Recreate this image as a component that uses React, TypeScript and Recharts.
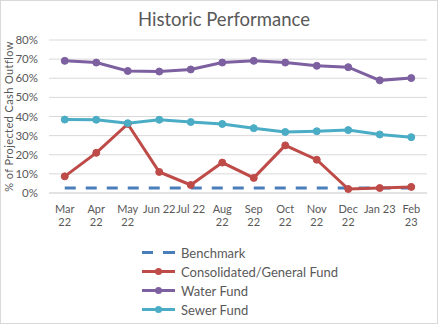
import { CartesianGrid, Label, Legend, Line, LineChart, XAxis, YAxis } from "recharts"

const months = ["Mar 22", "Apr 22", "May 22", "Jun 22", "Jul 22", "Aug 22", "Sep 22", "Oct 22", "Nov 22", "Dec 22", "Jan 23", "Feb 23"]
// how excel wrapped the category labels
const tickLines = [
  ["Mar", "22"],
  ["Apr", "22"],
  ["May", "22"],
  ["Jun 22"],
  ["Jul 22"],
  ["Aug", "22"],
  ["Sep", "22"],
  ["Oct", "22"],
  ["Nov", "22"],
  ["Dec", "22"],
  ["Jan 23"],
  ["Feb", "23"],
]
const benchmark = [2.6, 2.6, 2.6, 2.6, 2.6, 2.6, 2.6, 2.6, 2.6, 2.6, 2.6, 2.6]
const consolidated = [8.7, 21, 36.1, 11, 4.2, 15.9, 7.9, 24.9, 17.4, 2.1, 2.6, 3.2]
const water = [69.1, 68.2, 63.8, 63.5, 64.6, 68.2, 69.1, 68.2, 66.5, 65.8, 58.9, 60.1]
const sewer = [38.4, 38.3, 36.5, 38.3, 37.1, 36.1, 33.9, 31.9, 32.3, 32.9, 30.6, 29.2]
const yTicks = [0, 10, 20, 30, 40, 50, 60, 70, 80]

const data = months.map((m, i) => ({
  month: m,
  benchmark: benchmark[i],
  consolidated: consolidated[i],
  water: water[i],
  sewer: sewer[i],
}))

const font = "Lato, 'Open Sans', sans-serif"
const textColor = "#595959"
const grid = "#d9d9d9"

const legendItems = [
  { name: "Benchmark", color: "#4a7ebb", dashed: true },
  { name: "Consolidated/General Fund", color: "#be4b48", dashed: false },
  { name: "Water Fund", color: "#7d60a0", dashed: false },
  { name: "Sewer Fund", color: "#4aacc5", dashed: false },
]

function MonthTick(props: any) {
  const { x, y, index } = props
  const lines = tickLines[index] || [props.payload.value]
  return (
    <text x={x} y={y + 11.5} textAnchor="middle" fill={textColor} fontSize={11} fontFamily={font}>
      {lines.map((l, i) => (
        <tspan key={i} x={x} dy={i === 0 ? 0 : 13.5}>
          {l}
        </tspan>
      ))}
    </text>
  )
}

function LegendBox() {
  return (
    <div style={{ fontFamily: font, fontSize: 13, color: textColor }}>
      {legendItems.map((it) => (
        <div key={it.name} style={{ height: 19, display: "flex", alignItems: "center" }}>
          <svg width={39} height={19}>
            {it.dashed ? (
              <>
                <line x1={0} y1={9.5} x2={11} y2={9.5} stroke={it.color} strokeWidth={3} />
                <line x1={21} y1={9.5} x2={33} y2={9.5} stroke={it.color} strokeWidth={3} />
              </>
            ) : (
              <>
                <line x1={0} y1={9.5} x2={33} y2={9.5} stroke={it.color} strokeWidth={3} />
                <circle cx={16.5} cy={9.5} r={3.5} fill={it.color} />
              </>
            )}
          </svg>
          <span>{it.name}</span>
        </div>
      ))}
    </div>
  )
}

export default function App() {
  const dot = (c: string) => ({ r: 3.5, fill: c, stroke: c, strokeWidth: 1 })
  return (
    <div style={{ position: "absolute", left: 0, top: 0, width: 438, height: 324, background: "#fff" }}>
      <div
        style={{
          position: "absolute",
          left: 138,
          top: 8,
          width: 162,
          textAlign: "center",
          fontFamily: font,
          fontSize: 18.5,
          color: textColor,
          whiteSpace: "nowrap",
        }}
      >
        Historic Performance
      </div>
      <LineChart width={438} height={324} data={data} margin={{ top: 40, right: 11, bottom: 5, left: 0 }}>
        <CartesianGrid vertical={false} stroke={grid} strokeWidth={1} />
        <XAxis
          dataKey="month"
          interval={0}
          padding={{ left: 15.75, right: 15.75 }}
          axisLine={{ stroke: grid }}
          tickLine={false}
          height={50}
          tick={<MonthTick />}
        />
        <YAxis
          domain={[0, 80]}
          ticks={yTicks}
          interval={0}
          width={49}
          axisLine={false}
          tickLine={false}
          tickMargin={5}
          tickFormatter={(v) => `${v}%`}
          tick={{ fill: textColor, fontSize: 11.5, fontFamily: font }}
        >
          <Label
            value="% of  Projected Cash Outflow"
            angle={-90}
            position="insideLeft"
            offset={9}
            style={{ fill: textColor, fontSize: 11, fontFamily: font, textAnchor: "middle", letterSpacing: 0.4 }}
          />
        </YAxis>
        <Legend
          layout="vertical"
          verticalAlign="bottom"
          align="center"
          height={76}
          wrapperStyle={{ left: 142, width: 220 }}
          content={<LegendBox />}
        />
        <Line
          dataKey="benchmark"
          stroke="#4a7ebb"
          strokeWidth={3}
          strokeDasharray="11 10"
          dot={false}
          isAnimationActive={false}
        />
        <Line dataKey="consolidated" stroke="#be4b48" strokeWidth={3} dot={dot("#be4b48")} isAnimationActive={false} />
        <Line dataKey="water" stroke="#7d60a0" strokeWidth={3} dot={dot("#7d60a0")} isAnimationActive={false} />
        <Line dataKey="sewer" stroke="#4aacc5" strokeWidth={3} dot={dot("#4aacc5")} isAnimationActive={false} />
      </LineChart>
      <div
        style={{
          position: "absolute",
          left: 0,
          top: 0,
          width: 438,
          height: 324,
          boxSizing: "border-box",
          border: "1px solid #d9d9d9",
          pointerEvents: "none",
        }}
      />
    </div>
  )
}
